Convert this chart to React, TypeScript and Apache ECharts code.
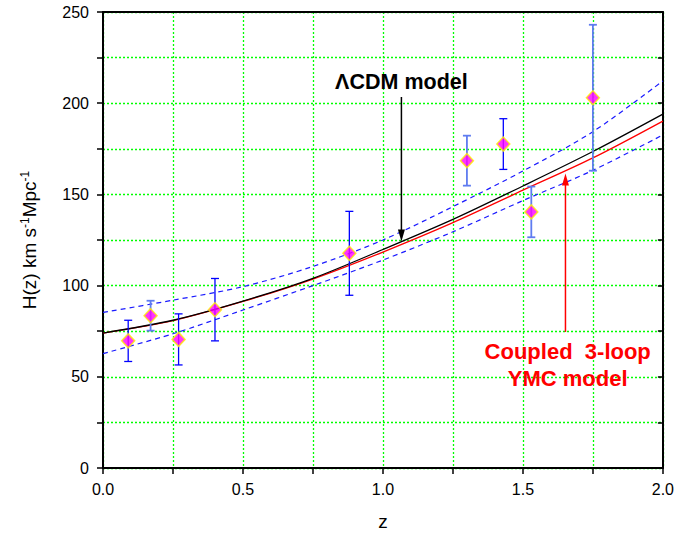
import React, { useEffect, useRef } from "react";
import * as echarts from "echarts";

// Observational H(z) data
const zObs = [0.09, 0.17, 0.27, 0.4, 0.88, 1.3, 1.43, 1.53, 1.75];
const hObs = [69.7, 83.5, 70.5, 86.8, 117.7, 168.5, 177.6, 140.4, 203];
const hErr = [11.3, 8.2, 14, 17.1, 23, 13.7, 13.9, 13.9, 40];
const errLight = [false, true, false, false, false, true, false, true, true];

// Model curves
const zCurve = [0, 0.25, 0.5, 0.75, 1.0, 1.25, 1.5, 1.75, 2.0];
const hLCDM = [74, 81, 91.5, 104, 119.8, 136.3, 154.6, 173.5, 194];
const hYMC = [74, 80.8, 91.3, 103.6, 118.4, 134.5, 152.3, 170, 190.2];
const hUpper = [85.3, 92, 99.4, 110.5, 125, 143.3, 162.8, 184.4, 212.2];
const hLower = [62.7, 73.6, 86.6, 100, 114, 129.5, 146.6, 163.2, 182.6];

const xTicks = [0, 0.5, 1.0, 1.5, 2.0];
const yTicks = [0, 50, 100, 150, 200, 250];

const pairs = (xs: number[], ys: number[]) => xs.map((x, i) => [x, ys[i]]);

export default function App() {
  const ref = useRef<HTMLDivElement>(null);
  useEffect(() => {
    if (!ref.current) return;
    const chart = echarts.init(ref.current, null, { renderer: "svg" });
    const font = "Liberation Sans, Arial, sans-serif";
    const gridLine = { show: true, lineStyle: { color: "#00ff00", width: 1.3, type: [2, 2] as any } };
    chart.setOption({
      animation: false,
      backgroundColor: "#ffffff",
      textStyle: { fontFamily: font },
      grid: { left: 103, right: 13, top: 12, bottom: 70 },
      xAxis: [
        {
          type: "value",
          min: 0,
          max: 2,
          interval: 0.25,
          name: "z",
          nameLocation: "middle",
          nameGap: 44,
          nameTextStyle: { fontSize: 19, color: "#000", fontFamily: font },
          axisLine: { show: true, lineStyle: { color: "#000", width: 2 } },
          axisTick: { show: true, inside: false, length: 6, lineStyle: { color: "#000", width: 1.5 } },
          axisLabel: {
            fontSize: 16,
            color: "#000",
            margin: 13,
            fontFamily: font,
            formatter: (v: number) => {
              const m = xTicks.find((t) => Math.abs(t - v) < 1e-6);
              return m === undefined ? "" : m.toFixed(1);
            },
          },
          splitLine: gridLine,
        },
        {
          type: "value",
          position: "top",
          min: 0,
          max: 2,
          interval: 0.25,
          axisLine: { show: true, onZero: false, lineStyle: { color: "#000", width: 2 } },
          axisTick: { show: false },
          axisLabel: { show: false },
          splitLine: { show: false },
        },
      ],
      yAxis: [
        {
          type: "value",
          min: 0,
          max: 250,
          interval: 25,
          name: "H(z) km s{sup|-1}Mpc{sup|-1}",
          nameLocation: "middle",
          nameGap: 63,
          nameTextStyle: {
            fontSize: 19,
            color: "#000",
            fontFamily: font,
            rich: {
              sup: { fontSize: 12, color: "#000", fontFamily: font, verticalAlign: "top", padding: [0, 0, 9, 0] },
            },
          },
          axisLine: { show: true, lineStyle: { color: "#000", width: 2 } },
          axisTick: { show: true, inside: false, length: 6, lineStyle: { color: "#000", width: 1.5 } },
          axisLabel: {
            fontSize: 16,
            color: "#000",
            margin: 14,
            fontFamily: font,
            formatter: (v: number) => {
              const m = yTicks.find((t) => Math.abs(t - v) < 1e-6);
              return m === undefined ? "" : String(m);
            },
          },
          splitLine: gridLine,
        },
        {
          type: "value",
          position: "right",
          min: 0,
          max: 250,
          interval: 25,
          axisLine: { show: true, onZero: false, lineStyle: { color: "#000", width: 2 } },
          axisTick: { show: true, inside: true, length: 5, lineStyle: { color: "#000", width: 1.5 } },
          axisLabel: { show: false },
          splitLine: { show: false },
        },
      ],
      series: [
        {
          type: "line",
          data: pairs(zCurve, hUpper),
          smooth: 0.3,
          showSymbol: false,
          lineStyle: { color: "#1a1aff", width: 1.2, type: [5, 4] as any },
          z: 2,
        },
        {
          type: "line",
          data: pairs(zCurve, hLower),
          smooth: 0.3,
          showSymbol: false,
          lineStyle: { color: "#1a1aff", width: 1.2, type: [5, 4] as any },
          z: 2,
        },
        {
          type: "line",
          data: pairs(zCurve, hYMC),
          smooth: 0.3,
          showSymbol: false,
          lineStyle: { color: "#ff0000", width: 1.3 },
          z: 3,
        },
        {
          type: "line",
          data: pairs(zCurve, hLCDM),
          smooth: 0.3,
          showSymbol: false,
          lineStyle: { color: "#000000", width: 1.3 },
          z: 3,
        },
        {
          type: "custom",
          data: zObs.map((z, i) => [z, hObs[i] - hErr[i], hObs[i] + hErr[i], errLight[i] ? 1 : 0]),
          renderItem: (params: any, api: any) => {
            const lo = api.coord([api.value(0), api.value(1)]);
            const hi = api.coord([api.value(0), api.value(2)]);
            const light = api.value(3) === 1;
            const color = light ? "#5f7cf0" : "#0000ff";
            const w = light ? 1.8 : 1.3;
            const cap = 4;
            const style = { stroke: color, lineWidth: w };
            return {
              type: "group",
              children: [
                { type: "line", shape: { x1: lo[0], y1: lo[1], x2: hi[0], y2: hi[1] }, style },
                { type: "line", shape: { x1: lo[0] - cap, y1: lo[1], x2: lo[0] + cap, y2: lo[1] }, style },
                { type: "line", shape: { x1: hi[0] - cap, y1: hi[1], x2: hi[0] + cap, y2: hi[1] }, style },
              ],
            };
          },
          z: 4,
        },
        {
          type: "scatter",
          data: pairs(zObs, hObs),
          symbol: "diamond",
          symbolSize: [13, 14],
          itemStyle: { color: "#ff00ff", borderColor: "#ffee00", borderWidth: 1.5 },
          z: 5,
        },
      ],
    });

    const px = (z: number, h: number) => chart.convertToPixel({ gridIndex: 0 }, [z, h]) as number[];
    const a1s = px(1.066, 203.4);
    const a1e = px(1.066, 124.2);
    const a2s = px(1.652, 74.6);
    const a2e = px(1.652, 161.5);
    const t1 = px(1.066, 211.6);
    const t2 = px(1.66, 56.5);
    const hw = 3.5;
    const hl = 12;
    chart.setOption({
      graphic: [
        {
          type: "line",
          shape: { x1: a1s[0], y1: a1s[1], x2: a1e[0], y2: a1e[1] - hl + 1 },
          style: { stroke: "#000", lineWidth: 1.5 },
          z: 10,
        },
        {
          type: "polygon",
          shape: { points: [[a1e[0] - hw, a1e[1] - hl], [a1e[0] + hw, a1e[1] - hl], [a1e[0], a1e[1]]] },
          style: { fill: "#000" },
          z: 10,
        },
        {
          type: "line",
          shape: { x1: a2s[0], y1: a2s[1], x2: a2e[0], y2: a2e[1] + hl - 1 },
          style: { stroke: "#ff0000", lineWidth: 1.5 },
          z: 10,
        },
        {
          type: "polygon",
          shape: { points: [[a2e[0] - hw, a2e[1] + hl], [a2e[0] + hw, a2e[1] + hl], [a2e[0], a2e[1]]] },
          style: { fill: "#ff0000" },
          z: 10,
        },
        {
          type: "text",
          x: t1[0],
          y: t1[1],
          style: {
            text: "ΛCDM model",
            fontSize: 21.5,
            fontWeight: "bold",
            fontFamily: font,
            fill: "#000",
            align: "center",
            verticalAlign: "middle",
          },
          z: 10,
        },
        {
          type: "text",
          x: t2[0],
          y: t2[1],
          style: {
            text: "Coupled  3-loop\nYMC model",
            fontSize: 22,
            fontWeight: "bold",
            fontFamily: font,
            fill: "#ff0000",
            align: "center",
            verticalAlign: "middle",
            lineHeight: 27,
          },
          z: 10,
        },
      ],
    });
    return () => chart.dispose();
  }, []);
  return <div ref={ref} style={{ width: 677, height: 538, position: "absolute", left: 0, top: 0 }} />;
}
